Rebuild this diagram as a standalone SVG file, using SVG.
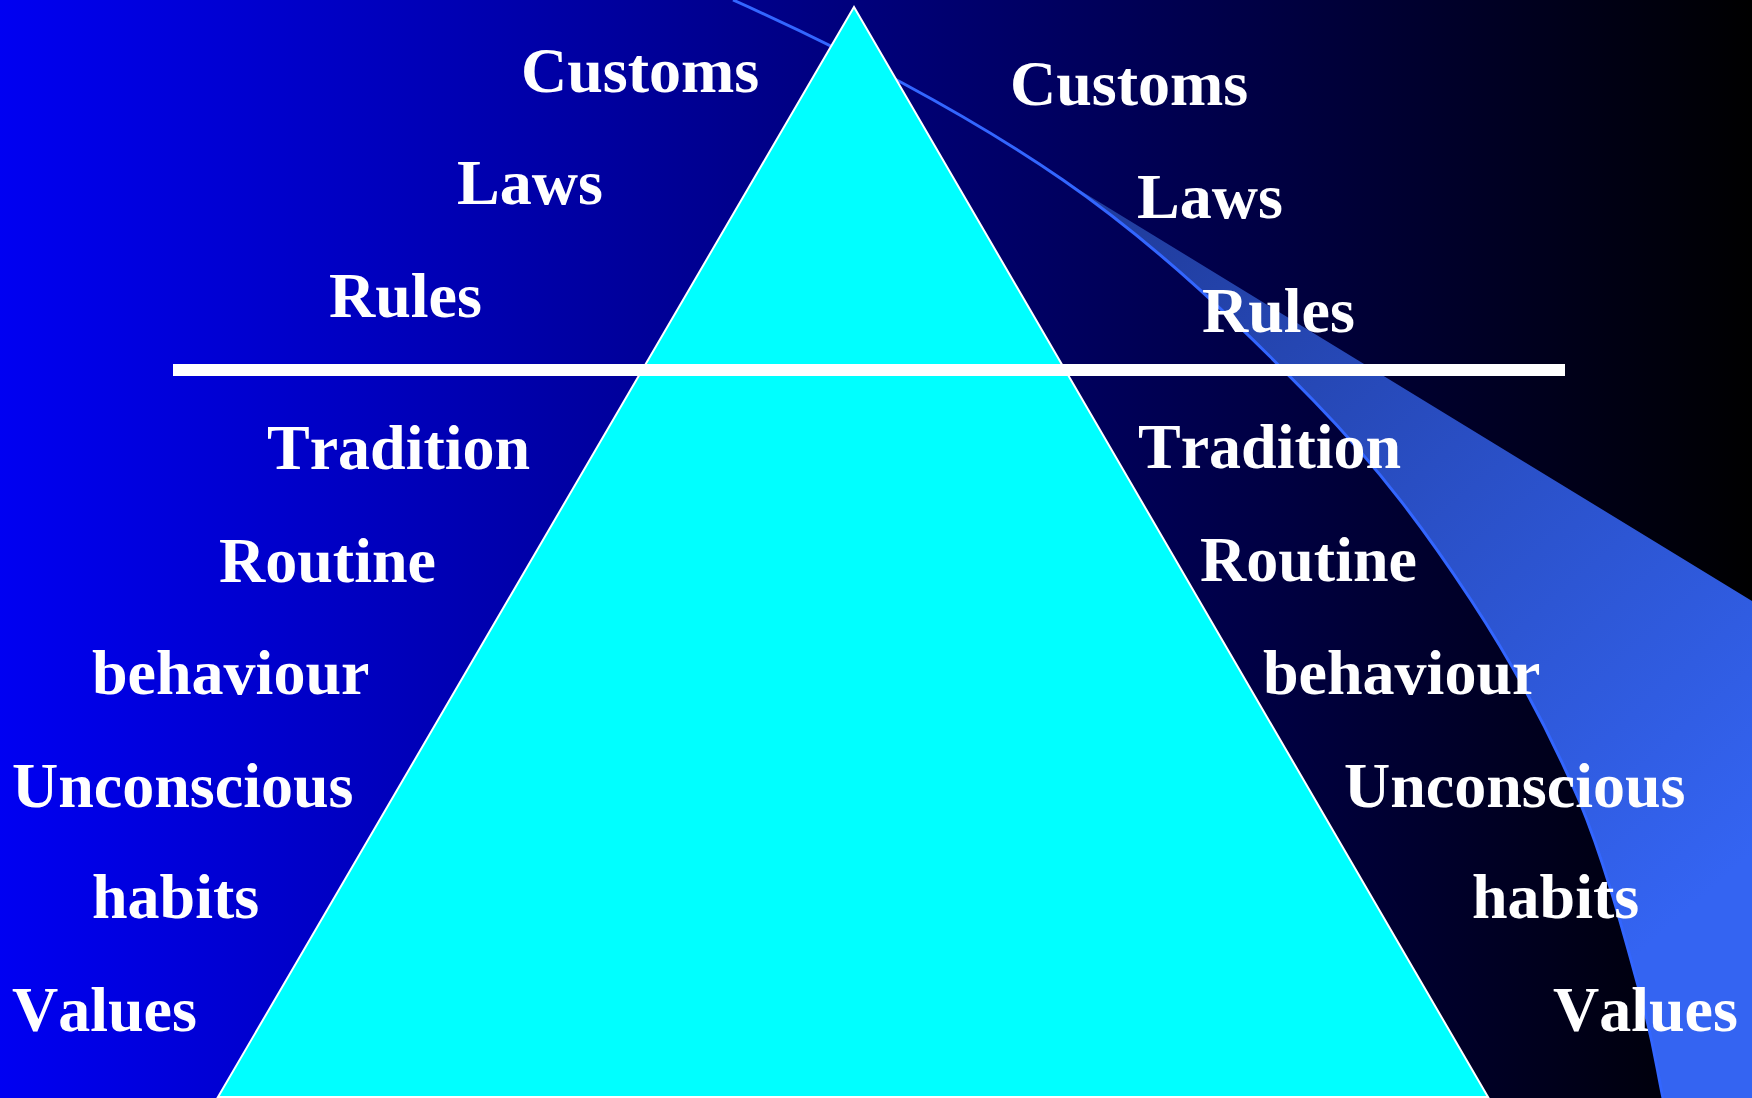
<svg xmlns="http://www.w3.org/2000/svg" width="1752" height="1098" viewBox="0 0 1752 1098">
  <style>
    .lbl { font-family: "Liberation Serif", "Times New Roman", serif; font-weight: bold; font-size: 64px; fill: #FFFFFF; font-kerning: none; }
  </style>
  <defs>
    <linearGradient id="bg" x1="0" y1="0" x2="1752" y2="0" gradientUnits="userSpaceOnUse">
      <stop offset="0" stop-color="#0000F2"/>
      <stop offset="1" stop-color="#000000"/>
    </linearGradient>
    <linearGradient id="bandFill" x1="1063" y1="180" x2="1700" y2="900" gradientUnits="userSpaceOnUse">
      <stop offset="0" stop-color="#1F3A98"/>
      <stop offset="1" stop-color="#3464F2"/>
    </linearGradient>
  </defs>

  <g id="background">
    <rect x="0" y="0" width="1752" height="1098" fill="url(#bg)"/>
  </g>

  <g id="swoosh">
    <path d="M1063,180 L1752,601 L1752,1098 L1663,1098 C1656,1065 1655,1050 1642,1000 C1628,950 1607,867 1579,800 C1550,733 1515,667 1471,600 C1427,533 1381,470 1313,400 C1245,330 1160,247 1063,180 Z" fill="url(#bandFill)"/>
    <path d="M733,0 C843,49 966,113 1063,180 C1160,247 1245,330 1313,400 C1381,470 1427,533 1471,600 C1515,667 1550,733 1579,800 C1607,867 1628,950 1642,1000 C1655,1050 1656,1065 1663,1098" fill="none" stroke="#3366FF" stroke-width="3"/>
  </g>

  <g id="pyramid">
    <polygon points="854,7 218,1097 1488,1097" fill="#00FFFF" stroke="#FFFFFF" stroke-width="2" stroke-linejoin="miter"/>
  </g>

  <g id="divider">
    <rect x="173" y="364" width="1392" height="12" fill="#FFFFFF"/>
  </g>

  <g id="left-labels">
    <text class="lbl" x="521" y="92">Customs</text>
    <text class="lbl" x="457" y="204">Laws</text>
    <text class="lbl" x="329" y="317">Rules</text>
    <text class="lbl" x="267" y="469">Tradition</text>
    <text class="lbl" x="219" y="582">Routine</text>
    <text class="lbl" x="92" y="694">behaviour</text>
    <text class="lbl" x="12" y="807">Unconscious</text>
    <text class="lbl" x="92" y="918">habits</text>
    <text class="lbl" x="12" y="1031">Values</text>
  </g>

  <g id="right-labels">
    <text class="lbl" x="1010" y="105">Customs</text>
    <text class="lbl" x="1137" y="218">Laws</text>
    <text class="lbl" x="1202" y="332">Rules</text>
    <text class="lbl" x="1138" y="468">Tradition</text>
    <text class="lbl" x="1200" y="581">Routine</text>
    <text class="lbl" x="1263" y="694">behaviour</text>
    <text class="lbl" x="1344" y="807">Unconscious</text>
    <text class="lbl" x="1472" y="918">habits</text>
    <text class="lbl" x="1553" y="1031">Values</text>
  </g>
</svg>
